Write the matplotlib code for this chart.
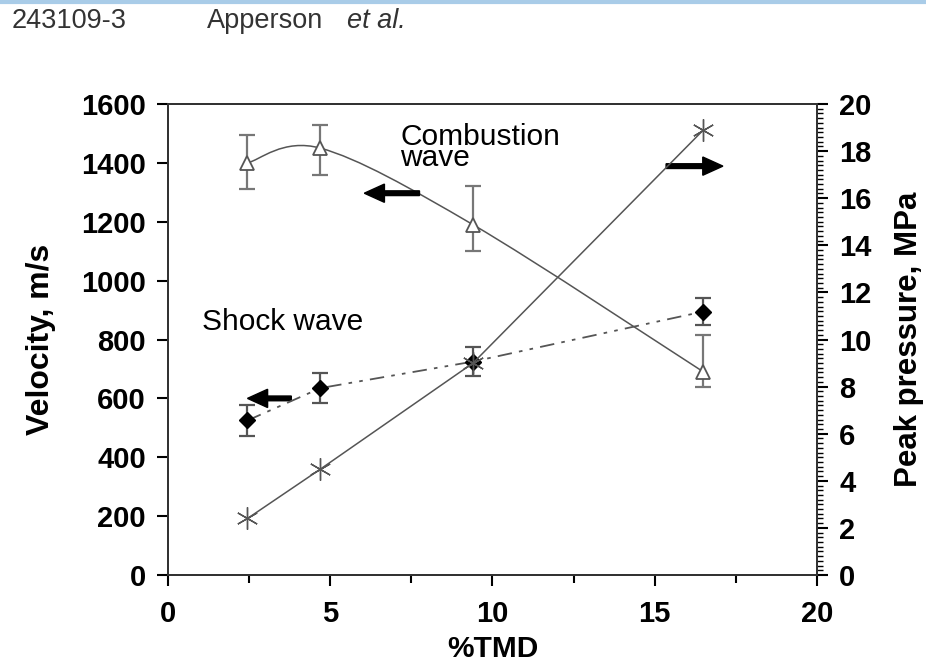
import numpy as np
import matplotlib
matplotlib.use("Agg")
import matplotlib.pyplot as plt
from matplotlib.path import Path
from matplotlib.patches import PathPatch, FancyArrow
from matplotlib.ticker import MultipleLocator

plt.rcParams['font.family'] = ['Liberation Sans', 'DejaVu Sans']

# data
tmd = [2.45, 4.7, 9.4, 16.5]
comb_vel = [1400, 1450, 1190, 690]
comb_err_lo = [90, 90, 90, 50]
comb_err_hi = [95, 80, 130, 125]
shock_vel = [525, 635, 725, 895]
shock_err = [52, 50, 50, 45]
peak_p = [2.4, 4.5, 9.0, 18.9]

fig = plt.figure(figsize=(9.26, 6.68), dpi=100)
ax = fig.add_axes([0.1814, 0.1392, 0.7009, 0.7051])
ax2 = ax.twinx()

lc = '#555555'

# smoothed line (Catmull-Rom style bezier, like spreadsheet "smoothed line")
def smooth_path(xs, ys):
    pts = np.column_stack([xs, ys]).astype(float)
    n = len(pts)
    verts = [pts[0]]
    codes = [Path.MOVETO]
    for i in range(n - 1):
        p0 = pts[i - 1] if i > 0 else pts[i]
        p1 = pts[i]
        p2 = pts[i + 1]
        p3 = pts[i + 2] if i + 2 < n else pts[i + 1]
        c1 = p1 + (p2 - p0) / 6.0
        c2 = p2 - (p3 - p1) / 6.0
        verts += [c1, c2, p2]
        codes += [Path.CURVE4] * 3
    return Path(verts, codes)

ax.add_patch(PathPatch(smooth_path(tmd, comb_vel), fill=False, color=lc, lw=1.1))
ax.errorbar(tmd, comb_vel, yerr=[comb_err_lo, comb_err_hi], fmt='none',
            ecolor='#777777', elinewidth=1.6, capsize=5.5, capthick=1.6)
ax.plot(tmd, comb_vel, ls='none', marker='^', ms=10, mfc='white', mec=lc, mew=1.3)

ax.errorbar(tmd, shock_vel, yerr=shock_err, fmt='none',
            ecolor='#555555', elinewidth=1.6, capsize=5.5, capthick=1.6)
ax.plot(tmd, shock_vel, color=lc, lw=1.3, dashes=(8, 4, 2, 4, 2, 4),
        marker='D', ms=8, mfc='black', mec='black')

ax2.plot(tmd, peak_p, color=lc, lw=1.1, marker=(6, 2, 0), ms=16, mec=lc, mew=1.0)

# arrows
arw = dict(width=16, head_width=62, head_length=0.62, length_includes_head=True,
           color='black')
ax.add_patch(FancyArrow(7.75, 1297, -1.7, 0, **arw))
ax.add_patch(FancyArrow(3.8, 600, -1.35, 0, **arw))
ax.add_patch(FancyArrow(15.35, 1389, 1.75, 0, **arw))

ax.text(7.15, 1389, 'Combustion\nwave', fontsize=21.5, ha='left', va='baseline',
        linespacing=0.68)
ax.text(1.05, 832, 'Shock wave', fontsize=21.5, ha='left', va='baseline')

ax.set_xlim(0, 20)
ax.set_ylim(0, 1600)
ax2.set_ylim(0, 20)
ax.xaxis.set_major_locator(MultipleLocator(5))
ax.xaxis.set_minor_locator(MultipleLocator(2.5))
ax.yaxis.set_major_locator(MultipleLocator(200))
ax2.yaxis.set_major_locator(MultipleLocator(2))
ax2.yaxis.set_minor_locator(MultipleLocator(0.2))

ax.tick_params(axis='y', which='major', labelsize=21, width=1.5, length=8, pad=8)
ax.tick_params(axis='x', which='major', labelsize=21, width=1.5, length=8, pad=10)
ax.tick_params(axis='x', which='minor', width=1.5, length=6)
ax2.tick_params(axis='y', which='major', labelsize=21, width=1.5, length=8, pad=8)
ax2.tick_params(axis='y', which='minor', width=1.0, length=4.5)
for lab in ax.get_xticklabels() + ax.get_yticklabels() + ax2.get_yticklabels():
    lab.set_fontweight('bold')

for a in (ax, ax2):
    for s in a.spines.values():
        s.set_linewidth(1.4)
        s.set_color('#333333')

ax.set_xlabel('%TMD', fontsize=21.5, fontweight='bold', labelpad=5)
ax.set_ylabel('Velocity, m/s', fontsize=23, fontweight='bold', labelpad=18)
ax2.set_ylabel('Peak pressure, MPa', fontsize=22.5, fontweight='bold', labelpad=16)

# page header
fig.add_artist(plt.Line2D([0, 1], [0.9975, 0.9975], color='#a9cce8', lw=3))
hdr = dict(fontsize=19.5, color='#333333', va='baseline')
fig.text(12 / 926, 1 - 28 / 668, '243109-3', **hdr)
fig.text(207 / 926, 1 - 28 / 668, 'Apperson', **hdr)
fig.text(347 / 926, 1 - 28 / 668, 'et al.', style='italic', **hdr)

fig.savefig('out.png', dpi=100)
